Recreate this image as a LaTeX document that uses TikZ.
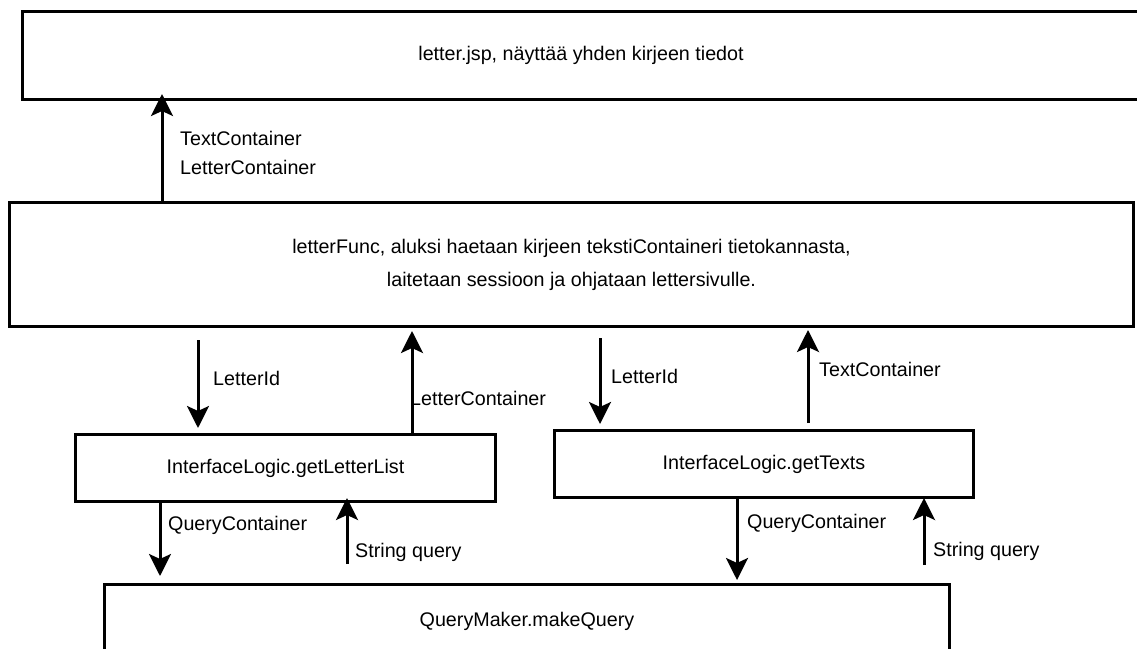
\documentclass[tikz,border=0pt]{standalone}
\usepackage{fontspec}
\setmainfont{Liberation Sans}
\usetikzlibrary{arrows.meta}
\begin{document}
\begin{tikzpicture}[x=1pt,y=-1pt,
  box/.style={draw=black, line width=3pt, fill=white, inner sep=0pt, anchor=north west, align=center, font=\fontsize{19.7}{33}\selectfont},
  arr/.style={line width=3pt, -{Stealth[length=22pt,width=22pt,inset=5pt]}},
  lbl/.style={anchor=west, inner sep=0pt, align=left, font=\fontsize{19.7}{29}\selectfont}]
\useasboundingbox (0,0) rectangle (1137,648);
\clip (0,0) rectangle (1137,648);
\node[box, minimum width=1117pt, minimum height=88pt] (jsp) at (21,10) {letter.jsp, näyttää yhden kirjeen tiedot};
\node[box, minimum width=1124pt, minimum height=124pt] (lf) at (8,201) {letterFunc, aluksi haetaan kirjeen tekstiContaineri tietokannasta,\\laitetaan sessioon ja ohjataan lettersivulle.};
\node[box, minimum width=420pt, minimum height=67pt] (ll) at (74,433) {InterfaceLogic.getLetterList};
\node[box, minimum width=419pt, minimum height=67pt] (gt) at (553,429) {InterfaceLogic.getTexts};
\node[box, minimum width=845pt, minimum height=74pt] (qm) at (103,583) {QueryMaker.makeQuery};

% lf -> jsp
\draw[arr, shorten >=-7pt] (lf.north -| 162,0) -- (jsp.south -| 162,0);
\node[lbl] (l1) at (180,153) {TextContainer\\LetterContainer};
% lf -> ll
\draw[arr, shorten <=12pt, shorten >=5pt] (lf.south -| 198,0) -- (ll.north -| 198,0);
\node[lbl] (l2) at (213,378) {LetterId};
% ll -> lf
\draw[arr, shorten >=3pt] (ll.north -| 412,0) -- (lf.south -| 412,0);
\node[lbl] (l3) at (410,398) {LetterContainer};
% lf -> gt
\draw[arr, shorten <=10pt, shorten >=5pt] (lf.south -| 600,0) -- (gt.north -| 600,0);
\node[lbl] (l4) at (611,376) {LetterId};
% gt -> lf
\draw[arr, shorten <=6pt, shorten >=2pt] (gt.north -| 808,0) -- (lf.south -| 808,0);
\node[lbl] (l5) at (819,369) {TextContainer};
% ll -> qm
\draw[arr, shorten >=7pt] (ll.south -| 160,0) -- (qm.north -| 160,0);
\node[lbl] (l6) at (168,525) {QueryContainer};
% qm -> ll
\draw[arr, shorten <=19pt, shorten >=-5pt] (qm.north -| 347,0) -- (ll.south -| 347,0);
\node[lbl] (l7) at (355,552) {String query};
% gt -> qm
\draw[arr, shorten >=3pt] (gt.south -| 737,0) -- (qm.north -| 737,0);
\node[lbl] (l8) at (747,523) {QueryContainer};
% qm -> gt
\draw[arr, shorten <=18pt, shorten >=-1pt] (qm.north -| 924,0) -- (gt.south -| 924,0);
\node[lbl] (l9) at (933,551) {String query};
\end{tikzpicture}
\end{document}
